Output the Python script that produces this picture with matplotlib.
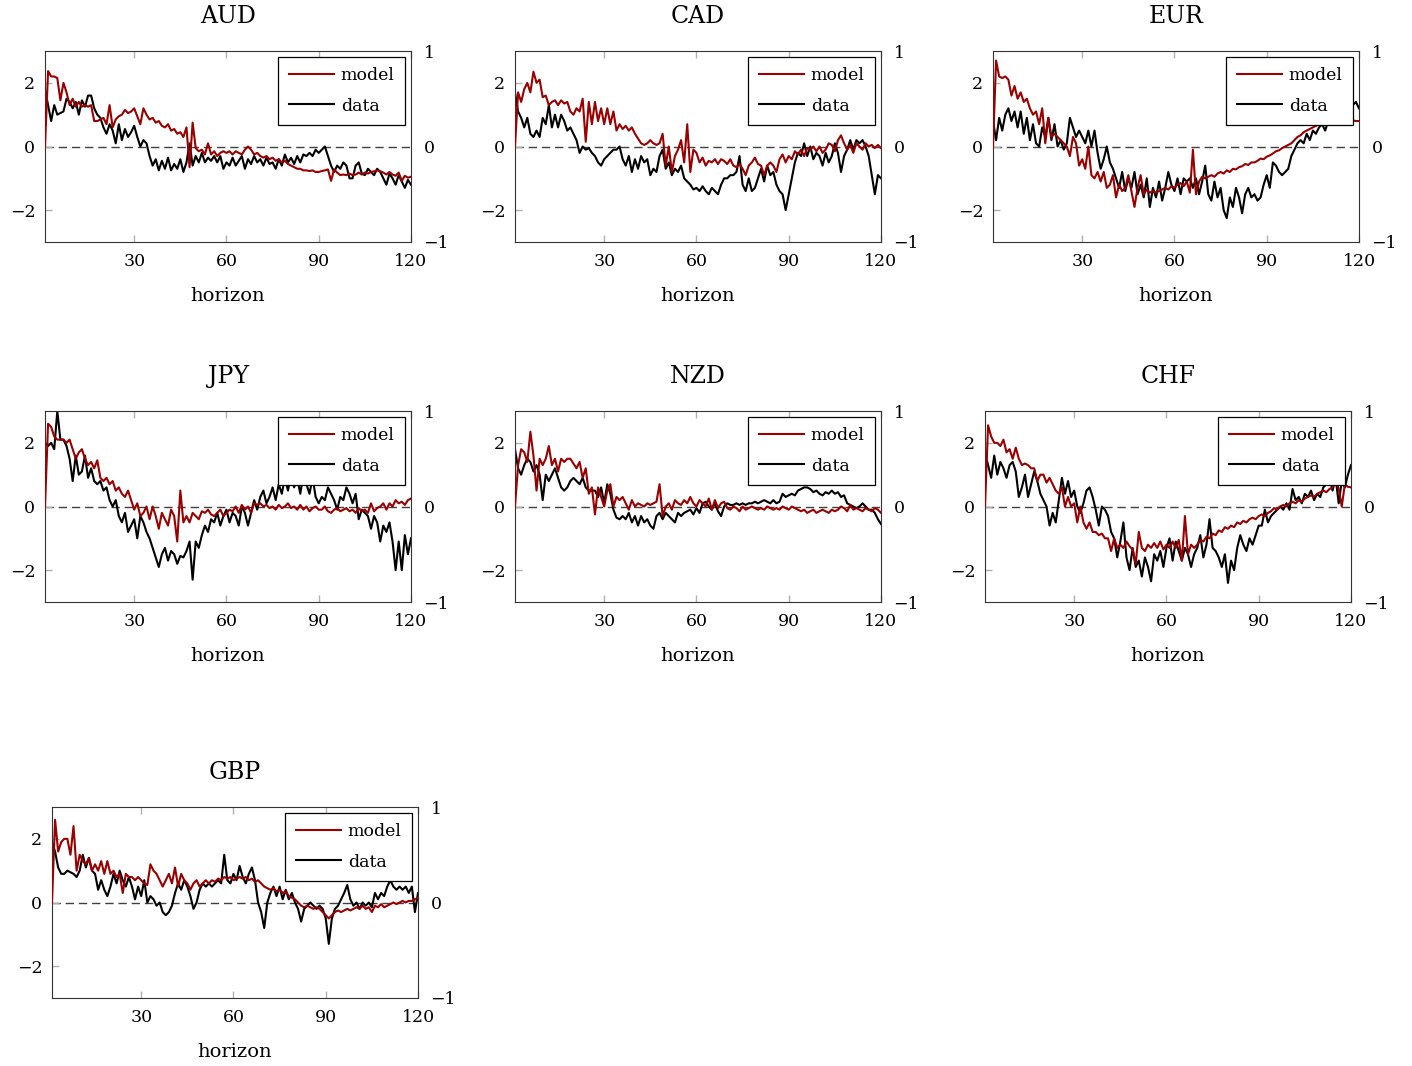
import numpy as np
import matplotlib
matplotlib.use('Agg')
import matplotlib.pyplot as plt

plt.rcParams['font.family'] = ['DejaVu Serif']

horizon = np.arange(1, 121)

aud_model = [0.0, 2.37, 2.2, 2.2, 2.15, 1.45, 2.0, 1.7, 1.3, 1.5,
             1.25, 1.4, 1.25, 1.3, 1.25, 1.3, 0.8, 0.8, 0.85, 0.9,
             0.7, 1.3, 0.6, 0.85, 0.95, 1.0, 1.15, 1.05, 1.1, 1.2,
             0.95, 0.7, 1.2, 1.0, 0.85, 0.9, 0.75, 0.8, 0.65, 0.6,
             0.7, 0.5, 0.55, 0.4, 0.45, 0.3, 0.6, -0.65, 0.75, -0.05,
             -0.15, -0.1, -0.25, 0.1, -0.25, -0.15, -0.3, -0.2, -0.15, -0.2,
             -0.15, -0.25, -0.15, -0.2, -0.25, -0.1, 0.0, -0.1, -0.25, -0.2,
             -0.3, -0.35, -0.3, -0.4, -0.35, -0.45, -0.4, -0.5, -0.45, -0.55,
             -0.6, -0.65, -0.7, -0.7, -0.75, -0.75, -0.77, -0.75, -0.8, -0.8,
             -0.77, -0.75, -0.72, -1.08, -0.72, -0.82, -0.9, -0.88, -0.9, -0.85,
             -0.9, -0.88, -0.82, -0.88, -0.82, -0.85, -0.8, -0.78, -0.75, -0.78,
             -0.82, -0.88, -0.8, -0.88, -0.92, -0.82, -1.08, -0.92, -0.98, -0.95]
aud_data = [1.8, 1.3, 0.8, 1.3, 1.0, 1.05, 1.1, 1.5, 1.4, 1.2,
            1.4, 1.0, 1.45, 1.25, 1.6, 1.6, 1.2, 1.0, 0.9, 0.6,
            0.4, 0.7, 0.5, 0.1, 0.7, 0.2, 0.55, 0.3, 0.45, 0.65,
            0.3, 0.0, 0.2, 0.1, -0.3, -0.6, -0.4, -0.75, -0.45, -0.7,
            -0.35, -0.75, -0.55, -0.7, -0.4, -0.8, -0.5, 0.1, -0.6, -0.3,
            -0.5, -0.2, -0.5, -0.35, -0.45, -0.3, -0.5, -0.3, -0.7, -0.5,
            -0.6, -0.35, -0.6, -0.45, -0.3, -0.7, -0.4, -0.55, -0.3, -0.5,
            -0.4, -0.6, -0.35, -0.55, -0.5, -0.7, -0.4, -0.6, -0.25, -0.5,
            -0.35, -0.55, -0.3, -0.5, -0.25, -0.3, -0.2, -0.3, -0.1, -0.2,
            -0.1, 0.0, -0.3, -0.6, -0.8, -0.6, -0.7, -0.5, -0.6, -1.0,
            -1.0, -0.6, -0.5, -0.85, -0.9, -0.7, -0.8, -0.9, -0.7, -0.8,
            -1.0, -1.2, -0.85, -1.0, -1.2, -0.9, -1.1, -1.3, -1.05, -1.2]

cad_model = [0.0, 1.7, 1.4, 1.8, 2.0, 1.7, 2.35, 2.0, 2.1, 1.55,
             1.6, 1.3, 1.4, 1.45, 1.3, 1.45, 1.35, 1.4, 1.1, 1.0,
             1.2, 1.1, 1.5, 0.15, 1.4, 0.7, 1.4, 0.8, 1.2, 0.7,
             1.2, 0.7, 1.1, 0.5, 0.7, 0.55, 0.65, 0.5, 0.6, 0.4,
             0.25, 0.1, 0.05, 0.1, 0.2, 0.1, 0.05, 0.1, 0.4, -0.6,
             0.0, -0.8, -0.3, -0.1, 0.2, -0.5, 0.7, -0.8, -0.1, -0.2,
             -0.5, -0.35, -0.6, -0.45, -0.5, -0.4, -0.55, -0.4, -0.45, -0.55,
             -0.4, -0.6, -0.65, -0.55, -0.7, -0.9, -0.6, -0.5, -0.35, -0.55,
             -0.6, -0.9, -0.6, -0.5, -0.6, -0.8, -0.4, -0.25, -0.5, -0.3,
             -0.4, -0.15, -0.25, -0.1, -0.3, -0.05, -0.1, 0.0, -0.15, 0.0,
             -0.2, -0.1, 0.1, 0.05, -0.15, 0.2, 0.35, 0.1, -0.1, 0.05,
             -0.2, 0.1, 0.0, -0.1, 0.1, 0.0, 0.05, -0.05, 0.05, -0.05]
cad_data = [1.7, 1.1, 0.9, 0.6, 0.9, 0.4, 0.3, 0.5, 0.3, 0.9,
            0.7, 1.3, 0.6, 1.0, 0.6, 1.0, 0.8, 0.5, 0.6, 0.4,
            0.2, -0.2, 0.0, -0.1, -0.05, -0.2, -0.3, -0.5, -0.6, -0.4,
            -0.3, -0.2, -0.1, -0.1, 0.0, -0.4, -0.6, -0.3, -0.8, -0.4,
            -0.7, -0.3, -0.5, -0.4, -0.9, -0.7, -0.8, -0.3, -0.1, -0.7,
            -0.5, -0.9, -0.7, -0.8, -0.6, -1.0, -1.1, -1.2, -1.35, -1.3,
            -1.4, -1.25, -1.4, -1.5, -1.3, -1.4, -1.5, -1.2, -1.0, -1.0,
            -0.9, -0.9, -0.8, -0.3, -1.2, -1.4, -1.0, -1.4, -1.3, -1.0,
            -0.7, -1.1, -0.6, -0.9, -0.8, -1.2, -1.4, -1.5, -2.0, -1.5,
            -1.0, -0.5, -0.2, -0.3, 0.1, -0.3, 0.0, -0.4, -0.2, -0.3,
            -0.6, -0.2, -0.5, -0.3, 0.1, -0.2, -0.8, -0.3, -0.1, 0.2,
            -0.1, 0.2, 0.1, 0.2, 0.0, -0.3, -0.9, -1.5, -0.9, -1.0]

eur_model = [0.0, 2.7, 2.2, 2.15, 2.2, 2.1, 1.6, 1.9, 1.5, 1.7,
             1.4, 1.5, 1.2, 1.0, 1.1, 0.7, 1.2, 0.1, 0.9, 0.3,
             0.4, 0.3, 0.2, 0.1, 0.0, -0.3, 0.3, 0.1, -0.6, -0.4,
             -0.7, 0.0, -0.9, -1.0, -0.8, -1.1, -0.8, -1.3, -1.2, -0.9,
             -1.6, -1.2, -1.4, -1.3, -0.9, -1.4, -1.9, -1.3, -0.9, -1.5,
             -1.35, -1.45, -1.4, -1.45, -1.4, -1.35, -1.3, -1.35, -1.25, -1.3,
             -1.2, -1.15, -1.25, -1.1, -1.45, -0.1, -1.5, -1.1, -0.95, -1.0,
             -0.95, -0.9, -0.95, -0.85, -0.8, -0.85, -0.75, -0.8, -0.7, -0.72,
             -0.65, -0.62, -0.55, -0.58, -0.5, -0.5, -0.45, -0.38, -0.4, -0.32,
             -0.28, -0.22, -0.15, -0.12, -0.05, 0.0, 0.05, 0.1, 0.2, 0.3,
             0.35, 0.45, 0.5, 0.55, 0.6, 0.65, 0.7, 0.72, 0.75, 0.8,
             0.75, 0.82, 0.85, 0.8, 0.85, 0.9, 0.85, 0.82, 0.8, 0.8]
eur_data = [0.8, 0.2, 0.9, 0.5, 1.0, 1.2, 0.8, 1.1, 0.6, 1.1,
            0.4, 0.9, 0.2, 0.7, 0.1, 0.0, 0.6, 0.3, 0.9, 0.2,
            0.7, 0.0, 0.2, -0.1, 0.1, 0.9, 0.6, 0.3, 0.5, 0.3,
            0.1, 0.5, 0.0, 0.5, -0.2, -0.7, -0.4, 0.0, -0.5, -0.7,
            -1.0, -1.3, -0.8, -1.4, -1.0, -1.3, -0.8, -1.5, -1.2, -1.6,
            -1.0, -1.9, -1.3, -1.6, -1.1, -1.7, -1.3, -0.8, -1.2, -1.4,
            -1.0, -1.5, -1.0, -1.1, -1.0, -1.3, -1.0, -1.5, -1.1, -0.6,
            -1.5, -1.7, -1.1, -1.6, -1.3, -2.0, -2.25, -1.6, -1.9, -1.3,
            -1.6, -2.1, -1.5, -1.3, -1.6, -1.5, -1.7, -1.6, -1.2, -0.9,
            -1.3, -0.5, -0.6, -0.8, -0.9, -0.8, -0.7, -0.3, -0.1, 0.1,
            0.2, 0.1, 0.4, 0.2, 0.5, 0.4, 0.6, 0.7, 0.5, 0.8,
            0.7, 0.8, 0.9, 0.7, 1.0, 0.9, 1.1, 1.3, 1.4, 1.2]

jpy_model = [0.0, 2.6, 2.5, 2.2, 2.1, 2.1, 2.1, 2.0, 2.1, 1.8,
             1.5, 1.7, 1.8, 1.5, 1.3, 1.4, 1.2, 1.45, 0.9, 0.8,
             0.9, 0.7, 0.8, 0.5, 0.6, 0.4, 0.3, 0.5, 0.2, -0.1,
             0.1, -0.3, -0.2, 0.0, -0.4, 0.0, -0.3, -0.7, -0.2, -0.4,
             -0.6, -0.1, -0.3, -1.1, 0.5, -0.5, -0.3, -0.5, -0.2, -0.3,
             -0.4, -0.15, -0.2, -0.1, -0.25, -0.3, -0.2, -0.1, -0.3, -0.2,
             -0.1, -0.15, 0.0, -0.2, 0.05, -0.1, 0.0, -0.2, 0.1, 0.05,
             0.1, 0.0, 0.05, -0.05, 0.0, -0.1, 0.05, -0.05, 0.0, 0.1,
             -0.05, 0.0, -0.1, 0.05, -0.1, 0.0, -0.15, -0.05, 0.0, -0.1,
             -0.1, 0.0, -0.15, -0.2, -0.1, -0.05, -0.15, -0.1, -0.05, -0.15,
             -0.1, -0.2, -0.05, -0.15, -0.1, -0.2, 0.1, -0.15, -0.05, 0.0,
             0.1, -0.1, 0.1, 0.0, 0.2, 0.1, 0.15, 0.05, 0.2, 0.25]
jpy_data = [2.0, 1.9, 2.0, 1.8, 3.0, 2.1, 2.1, 1.9, 1.5, 0.8,
            1.6, 1.0, 1.1, 1.6, 0.9, 1.2, 0.8, 0.7, 0.8, 0.5,
            0.6, 0.2, 0.0, 0.2, -0.3, -0.5, -0.2, -0.8, -0.6, -0.4,
            -1.0, -0.3, -0.5, -0.8, -1.0, -1.3, -1.6, -1.9, -1.5, -1.3,
            -1.7, -1.4, -1.5, -1.8, -1.55, -1.6, -1.4, -1.1, -2.3, -1.1,
            -1.3, -0.9, -0.6, -0.8, -0.4, -0.5, -0.2, -0.6, -0.3, -0.1,
            -0.5, -0.2, -0.3, -0.6, 0.0, -0.2, -0.6, -0.2, 0.2, -0.1,
            0.3, 0.5, 0.1, 0.3, 0.6, 0.2, 0.7, 0.4, 0.9, 0.5,
            1.0, 0.6, 0.9, 0.4, 1.0, 0.7, 0.4, 0.9, 0.3, 0.1,
            0.3, 0.2, 0.6, 0.4, 0.2, -0.1, 0.3, 0.2, 0.6, 0.4,
            0.1, 0.4, -0.4, -0.1, -0.2, -0.3, -0.7, -0.3, -0.5, -1.1,
            -0.6, -0.8, -0.5, -1.1, -2.0, -1.1, -2.0, -0.9, -1.5, -1.0]

nzd_model = [0.0, 1.3, 1.8, 1.7, 1.4, 2.35, 1.6, 0.5, 1.5, 1.3,
             1.5, 1.9, 1.3, 1.5, 1.1, 1.5, 1.4, 1.5, 1.5, 1.35,
             1.2, 1.4, 0.9, 1.2, 0.4, 0.6, -0.25, 0.6, 0.3, 0.0,
             0.5, 0.7, 0.0, 0.3, 0.2, 0.3, 0.1, -0.1, 0.2, 0.0,
             0.1, 0.05, 0.0, 0.1, 0.05, 0.1, 0.15, 0.7, -0.3, 0.0,
             0.1, -0.1, 0.2, 0.1, 0.05, 0.2, 0.1, 0.3, 0.1, 0.0,
             0.2, 0.1, 0.0, 0.25, -0.1, 0.2, -0.05, 0.1, 0.15, -0.05,
             -0.1, 0.0, -0.05, -0.15, 0.0, -0.1, -0.05, 0.0, -0.05, -0.1,
             -0.05, -0.1, 0.0, -0.05, -0.1, -0.05, -0.1, 0.0, -0.05, -0.1,
             0.0, -0.05, -0.1, -0.15, -0.1, -0.2, -0.15, -0.1, -0.2, -0.15,
             -0.1, -0.15, -0.2, -0.1, -0.15, -0.1, 0.0, -0.05, -0.15, 0.05,
             -0.1, -0.05, -0.1, -0.15, -0.05, -0.1, -0.15, -0.05, -0.1, -0.2]
nzd_data = [1.8, 1.2, 1.0, 1.3, 1.5, 1.4, 1.1, 1.3, 1.0, 0.2,
            1.0, 0.8, 1.0, 1.2, 0.9, 0.6, 0.5, 0.6, 0.8, 0.9,
            0.8, 0.7, 0.9, 0.6, 0.5, 0.5, 0.5, 0.3, 0.6, 0.1,
            0.7, 0.4, -0.1, -0.35, -0.4, -0.3, -0.4, -0.2, -0.5, -0.3,
            -0.6, -0.3, -0.5, -0.4, -0.6, -0.7, -0.3, -0.2, -0.4, -0.2,
            -0.3, -0.4, -0.5, -0.2, -0.3, -0.2, -0.15, -0.1, -0.25, -0.05,
            -0.2, 0.1, 0.15, 0.0, -0.1, 0.1, -0.15, -0.3, 0.0, 0.1,
            0.05, 0.05, 0.1, 0.05, 0.1, 0.05, 0.1, 0.1, 0.15, 0.1,
            0.15, 0.2, 0.15, 0.1, 0.2, 0.1, 0.15, 0.4, 0.3, 0.35,
            0.4, 0.35, 0.5, 0.55, 0.6, 0.6, 0.55, 0.45, 0.5, 0.4,
            0.35, 0.45, 0.4, 0.5, 0.4, 0.45, 0.3, 0.35, 0.1, 0.05,
            0.0, -0.05, 0.0, 0.1, 0.0, -0.1, -0.1, -0.2, -0.4, -0.55]

chf_model = [0.0, 2.55, 2.2, 2.0, 2.0, 1.9, 2.1, 1.7, 1.8, 1.5,
             1.85, 1.5, 1.3, 1.35, 1.3, 1.2, 1.2, 0.8, 1.0, 1.0,
             0.75, 0.9, 0.7, 0.5, 0.4, 0.6, 0.0, 0.3, 0.0, 0.1,
             -0.5, 0.0, -0.5, -0.7, -0.5, -0.8, -0.8, -0.9, -0.85, -1.0,
             -1.0, -1.4, -1.0, -1.3, -1.2, -1.3, -1.1, -1.25, -1.35, -1.8,
             -0.8, -1.3, -1.4, -1.2, -1.3, -1.15, -1.3, -1.1, -1.35, -1.2,
             -1.3, -1.1, -1.3, -1.05, -1.7, -0.3, -1.5, -1.2, -1.3, -1.2,
             -1.05, -1.1, -0.95, -1.0, -0.85, -0.9, -0.75, -0.8, -0.65, -0.7,
             -0.6, -0.65, -0.5, -0.55, -0.45, -0.5, -0.4, -0.35, -0.4, -0.3,
             -0.25, -0.3, -0.2, -0.15, -0.05, -0.1, 0.0, 0.05, 0.0, 0.1,
             0.15, 0.1, 0.2, 0.15, 0.25, 0.3, 0.35, 0.3, 0.4, 0.45,
             0.5, 0.45, 0.55, 0.6, 0.9, 0.55, 0.0, 0.7, 0.62, 0.6]
chf_data = [1.7, 1.3, 0.9, 1.6, 1.0, 1.4, 1.2, 0.9, 1.3, 1.4,
            1.1, 0.3, 0.6, 1.0, 0.3, 0.7, 1.1, 0.8, 0.4, 0.2,
            0.0, -0.6, -0.2, -0.5, 0.2, 0.9, 0.4, 0.8, 0.3, 0.5,
            0.0, -0.2, 0.1, 0.5, 0.6, 0.3, -0.1, -0.6, 0.0, -0.1,
            -0.3, -0.8, -1.0, -1.6, -1.1, -0.5, -1.6, -2.0, -1.3, -1.9,
            -1.7, -2.2, -1.6, -1.9, -2.35, -1.5, -1.7, -1.4, -1.9, -1.3,
            -1.0, -1.7, -1.1, -1.4, -1.7, -1.3, -1.5, -1.9, -1.5, -1.3,
            -0.9, -1.6, -1.2, -0.4, -1.3, -1.4, -1.6, -1.9, -1.5, -2.4,
            -1.7, -2.0, -1.3, -0.9, -1.2, -1.4, -1.0, -1.2, -0.9, -0.6,
            -0.6, -0.1, -0.5, -0.3, -0.2, -0.1, 0.0, -0.1, 0.1, -0.1,
            0.55, 0.2, 0.3, 0.1, 0.4, 0.3, 0.5, 0.2, 0.4, 0.3,
            0.6, 0.7, 0.9, 0.5, 0.9, 0.1, 0.8, 0.6, 1.0, 1.3]

gbp_model = [0.0, 2.6, 1.6, 1.9, 2.0, 2.0, 1.5, 2.4, 1.0, 1.5,
             1.3, 1.2, 1.4, 1.0, 1.2, 1.0, 1.3, 0.9, 1.3, 0.9,
             1.0, 0.8, 0.9, 0.3, 0.9, 0.8, 0.8, 0.7, 0.8, 0.7,
             0.6, 0.55, 1.2, 1.0, 0.9, 0.7, 0.5, 0.7, 0.9, 0.6,
             1.1, 0.5, 0.9, 0.7, 0.6, 0.4, 0.6, 0.7, 0.5, 0.6,
             0.7, 0.6, 0.7, 0.65, 0.75, 0.7, 0.8, 0.75, 0.8, 0.7,
             0.75, 0.8, 0.75, 0.8, 0.7, 0.75, 0.65, 0.7, 0.6, 0.5,
             0.45, 0.4, 0.45, 0.35, 0.4, 0.3, 0.35, 0.2, 0.15, 0.1,
             0.0, -0.1, -0.15, -0.1, -0.15, -0.2, -0.15, -0.2, -0.3, -0.4,
             -0.5, -0.4, -0.3, -0.25, -0.3, -0.25, -0.2, -0.25, -0.2, -0.15,
             -0.2, -0.1, -0.2, -0.15, -0.3, -0.1, -0.15, -0.05, -0.15, -0.1,
             -0.05, 0.0, -0.05, 0.0, 0.05, 0.0, 0.05, 0.05, 0.1, 0.15]
gbp_data = [1.9, 1.6, 1.1, 0.9, 0.9, 1.0, 0.95, 0.9, 0.8, 1.0,
            1.5, 1.1, 1.4, 1.0, 0.9, 0.4, 0.7, 0.4, 0.2, 0.5,
            0.9, 0.6, 1.0, 0.7, 0.5, 0.8, 0.5, 0.1, 0.5, 0.2,
            0.7, 0.0, 0.2, 0.1, -0.1, 0.0, -0.3, -0.4, -0.3, -0.1,
            0.3, 0.6, 0.4, 0.7, 0.5, 0.2, -0.2, 0.0, 0.4, 0.6,
            0.5, 0.6, 0.5, 0.6, 0.7, 0.6, 1.5, 0.7, 0.6, 0.9,
            0.7, 1.15, 0.8, 0.6, 0.9, 1.1, 0.7, 0.0, -0.3, -0.8,
            0.0, 0.3, 0.5, 0.2, 0.5, 0.1, 0.4, 0.1, 0.3, 0.0,
            -0.2, -0.6, -0.2, -0.1, 0.0, -0.1, -0.2, -0.1, -0.2, -0.5,
            -1.3, -0.5, -0.2, -0.1, 0.1, 0.3, 0.55, 0.1, -0.1, 0.0,
            -0.2, 0.0, -0.1, 0.0, -0.15, 0.3, 0.1, 0.3, 0.2, 0.5,
            0.7, 0.5, 0.4, 0.5, 0.4, 0.5, 0.3, 0.5, -0.3, 0.3]

panels = [('AUD', aud_model, aud_data), ('CAD', cad_model, cad_data),
          ('EUR', eur_model, eur_data), ('JPY', jpy_model, jpy_data),
          ('NZD', nzd_model, nzd_data), ('CHF', chf_model, chf_data),
          ('GBP', gbp_model, gbp_data)]

# top-left corner of each plot box, in pixels
W, H = 1412, 1066
aw, ah = 366, 191
corners = [(45, 51), (515, 51), (993, 51), (45, 411), (515, 411), (985, 411), (52, 807)]

red = '#9b0000'
fig = plt.figure(figsize=(W / 100, H / 100), dpi=100)

for (name, model, data), (x0, y0) in zip(panels, corners):
    ax = fig.add_axes([x0 / W, 1 - (y0 + ah) / H, aw / W, ah / H])
    ax.axhline(0, color='#404040', lw=1.0, dashes=(6, 3.5), zorder=1)
    ax.plot(horizon, model, color=red, lw=1.5, label='model', zorder=3)
    ax.plot(horizon, data, color='black', lw=1.5, label='data', zorder=2)
    ax.set_xlim(1, 120)
    ax.set_ylim(-3, 3)
    ax.set_xticks([30, 60, 90, 120])
    ax.set_yticks([-2, 0, 2])
    ax.tick_params(direction='in', length=5, width=1, color='#b0b0b0',
                   top=True, labelsize=12.5, pad=8)
    ax.tick_params(axis='y', pad=7)
    for s in ax.spines.values():
        s.set_linewidth(0.8)
        s.set_color('#333333')
    ax.set_title(name, fontsize=17, pad=20)
    ax.set_xlabel('horizon', fontsize=14, labelpad=12.5)

    ax2 = ax.twinx()
    ax2.set_ylim(-1, 1)
    ax2.set_yticks([-1, 0, 1])
    ax2.tick_params(length=0, labelsize=12.5, pad=9)
    for s in ax2.spines.values():
        s.set_visible(False)

    leg = ax.legend(loc='upper right', fontsize=12.5, fancybox=False, framealpha=1,
                    edgecolor='black', borderaxespad=0.35, handlelength=2.6,
                    handletextpad=0.4, labelspacing=0.75, borderpad=0.6)
    leg.get_frame().set_linewidth(0.9)
    leg.set_zorder(5)

fig.savefig('out.png', dpi=100)
